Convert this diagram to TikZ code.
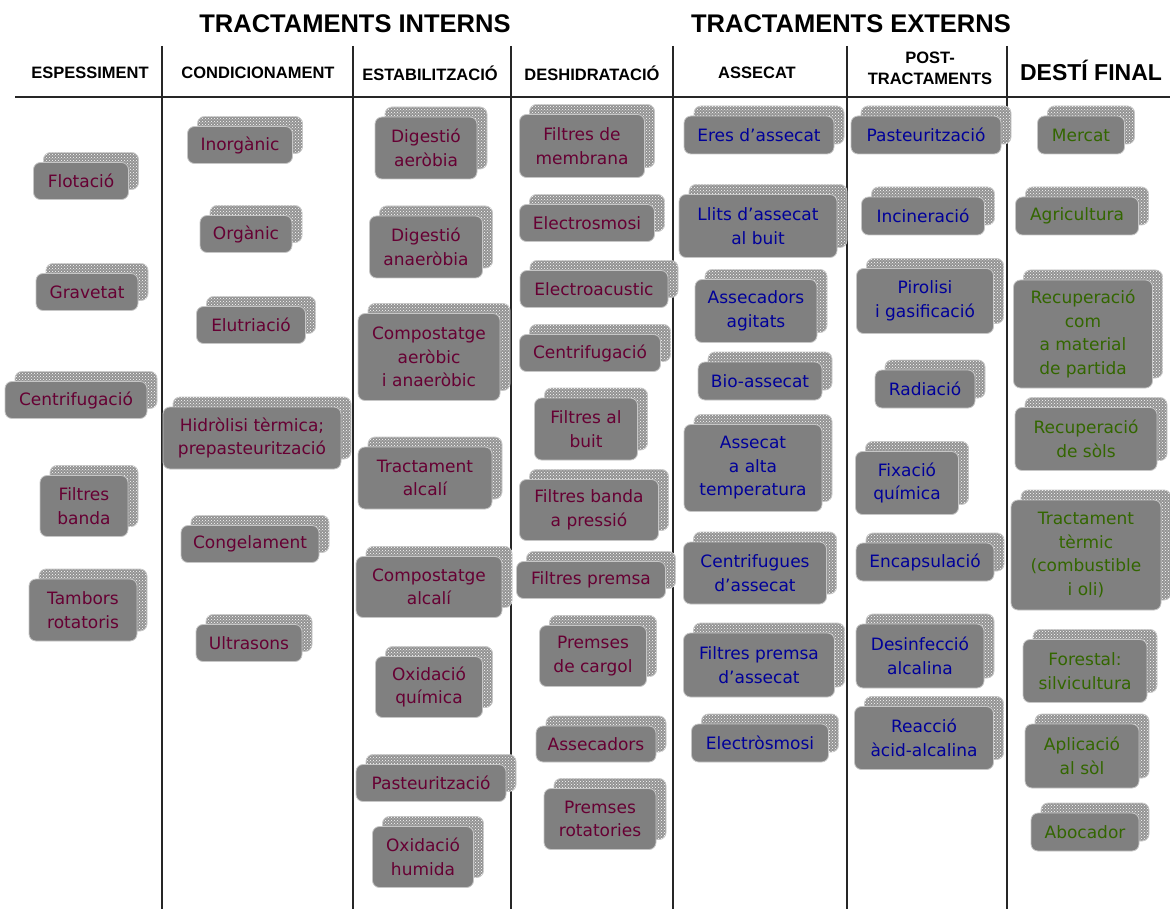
\documentclass[tikz,border=0pt]{standalone}
\usepackage{fontspec}
\setmainfont{DejaVu Sans}
\newfontfamily\headfont{Liberation Sans}
\usetikzlibrary{patterns}
\definecolor{intcol}{RGB}{102,0,51}
\definecolor{extcol}{RGB}{0,0,153}
\definecolor{fincol}{RGB}{51,102,0}
\definecolor{boxgray}{RGB}{128,128,128}

\begin{document}
\begin{tikzpicture}[x=1pt, y=-1pt,
        proc/.style = {rectangle, rounded corners=7pt, fill=boxgray, draw=gray!45, line width=0.8pt,
            align=center, inner sep=1pt, font=\fontsize{17}{23.5}\selectfont,
            preaction={fill=gray!85, draw=gray!45, transform canvas={shift={(10pt,10pt)}}},
            preaction={pattern=crosshatch dots, pattern color=white, transform canvas={shift={(10pt,10pt)}}}},
]
\tikzstyle{pint}=[proc, text=intcol]
\tikzstyle{pext}=[proc, text=extcol]
\tikzstyle{pfin}=[proc, text=fincol]
\tikzstyle{title}=[font=\headfont\bfseries\fontsize{25.5}{28}\selectfont]
\tikzstyle{colhead}=[font=\headfont\bfseries\fontsize{16.5}{21}\selectfont, align=center]
\tikzstyle{rule}=[line width=1.2pt, black!85]

\useasboundingbox (0,0) rectangle (1170,909);

	% titles and column heads
	\node[title] (tint) at (355,24) {TRACTAMENTS INTERNS};
	\node[title] (text) at (851,24) {TRACTAMENTS EXTERNS};

	\node[colhead] (hesp) at (90,73) {ESPESSIMENT};
	\node[colhead] (hcon) at (258,73) {CONDICIONAMENT};
	\node[colhead] (hest) at (430,73) {ESTABILITZACIÓ};
	\node[colhead] (hdes) at (592,73) {DESHIDRATACIÓ};
	\node[colhead] (hass) at (757,73) {ASSECAT};
	\node[colhead] (hpost) at (930,68) {POST-\\TRACTAMENTS};
	\node[colhead, font=\headfont\bfseries\fontsize{23}{26}\selectfont] (hdest) at (1091,70) {DESTÍ FINAL};

	\draw[rule] (15,97) -- (1170,97);
	\foreach \xc in {162,353,511,673,847,1007}
		\draw[rule] (\xc,46) -- (\xc,909);

	% espessiment
	\node[pint, minimum width=95, minimum height=37] (flot) at (81,181) {Flotació};
	\node[pint, minimum width=102, minimum height=37] (grav) at (87,292) {Gravetat};
	\node[pint, minimum width=142, minimum height=37] (cent1) at (76,400) {Centrifugació};
	\node[pint, minimum width=88, minimum height=61] (filb) at (84,506) {Filtres\\banda};
	\node[pint, minimum width=108, minimum height=62] (tamb) at (83,610) {Tambors\\rotatoris};

	% condicionament
	\node[pint, minimum width=105, minimum height=37] (inor) at (240,145) {Inorgànic};
	\node[pint, minimum width=92, minimum height=37] (orga) at (246,234) {Orgànic};
	\node[pint, minimum width=109, minimum height=37] (elut) at (251,325) {Elutriació};
	\node[pint, minimum width=178, minimum height=62] (hidr) at (252,438) {Hidròlisi tèrmica;\\prepasteurització};
	\node[pint, minimum width=138, minimum height=37] (cong) at (250,544) {Congelament};
	\node[pint, minimum width=106, minimum height=37] (ultr) at (249,643) {Ultrasons};

	% estabilitzacio
	\node[pint, minimum width=102, minimum height=62] (diga) at (426,148) {Digestió\\aeròbia};
	\node[pint, minimum width=113, minimum height=62] (digan) at (426,247) {Digestió\\anaeròbia};
	\node[pint, minimum width=142, minimum height=87] (compa) at (429,357) {Compostatge\\aeròbic\\i anaeròbic};
	\node[pint, minimum width=134, minimum height=62] (tral) at (425,478) {Tractament\\alcalí};
	\node[pint, minimum width=146, minimum height=61] (compb) at (429,587) {Compostatge\\alcalí};
	\node[pint, minimum width=107, minimum height=61] (oxiq) at (429,687) {Oxidació\\química};
	\node[pint, minimum width=150, minimum height=37] (past1) at (431,783) {Pasteurització};
	\node[pint, minimum width=101, minimum height=61] (oxih) at (423,857) {Oxidació\\humida};

	% deshidratacio
	\node[pint, minimum width=125, minimum height=63] (film) at (582,146) {Filtres de\\membrana};
	\node[pint, minimum width=135, minimum height=37] (elos) at (587,223) {Electrosmosi};
	\node[pint, minimum width=148, minimum height=37] (elac) at (594,289) {Electroacustic};
	\node[pint, minimum width=141, minimum height=37] (cent2) at (590,353) {Centrifugació};
	\node[pint, minimum width=103, minimum height=62] (filv) at (586,429) {Filtres al\\buit};
	\node[pint, minimum width=139, minimum height=61] (filp) at (589,510) {Filtres banda\\a pressió};
	\node[pint, minimum width=149, minimum height=37] (filr) at (591,580) {Filtres premsa};
	\node[pint, minimum width=107, minimum height=61] (prec) at (593,656) {Premses\\de cargol};
	\node[pint, minimum width=120, minimum height=36] (asse) at (596,744) {Assecadors};
	\node[pint, minimum width=112, minimum height=61] (prer) at (600,819) {Premses\\rotatories};

	% assecat
	\node[pext, minimum width=150, minimum height=38] (eres) at (759,135) {Eres d’assecat};
	\node[pext, minimum width=158, minimum height=63] (llit) at (758,226) {Llits d’assecat\\al buit};
	\node[pext, minimum width=122, minimum height=63] (asag) at (756,311) {Assecadors\\agitats};
	\node[pext, minimum width=124, minimum height=38] (bioa) at (760,381) {Bio-assecat};
	\node[pext, minimum width=138, minimum height=87] (asat) at (753,468) {Assecat\\a alta\\temperatura};
	\node[pext, minimum width=143, minimum height=62] (cena) at (755,573) {Centrifugues\\d’assecat};
	\node[pext, minimum width=151, minimum height=64] (fpra) at (759,665) {Filtres premsa\\d’assecat};
	\node[pext, minimum width=137, minimum height=38] (elec) at (760,743) {Electròsmosi};

	% post-tractaments
	\node[pext, minimum width=150, minimum height=38] (past2) at (926,135) {Pasteurització};
	\node[pext, minimum width=123, minimum height=38] (inci) at (923,216) {Incineració};
	\node[pext, minimum width=137, minimum height=65] (piro) at (925,301) {Pirolisi\\i gasificació};
	\node[pext, minimum width=100, minimum height=38] (radi) at (925,389) {Radiació};
	\node[pext, minimum width=103, minimum height=63] (fixa) at (907,483) {Fixació\\química};
	\node[pext, minimum width=138, minimum height=38] (enca) at (925,562) {Encapsulació};
	\node[pext, minimum width=128, minimum height=64] (desi) at (920,656) {Desinfecció\\alcalina};
	\node[pext, minimum width=139, minimum height=63] (reac) at (924,738) {Reacció\\àcid-alcalina};

	% desti final
	\node[pfin, minimum width=87, minimum height=38] (merc) at (1081,135) {Mercat};
	\node[pfin, minimum width=123, minimum height=38] (agri) at (1077,216) {Agricultura};
	\node[pfin, minimum width=139, minimum height=108] (recm) at (1083,334) {Recuperació\\com\\a material\\de partida};
	\node[pfin, minimum width=142, minimum height=63] (recs) at (1086,439) {Recuperació\\de sòls};
	\node[pfin, minimum width=150, minimum height=110] (trat) at (1086,555) {Tractament\\tèrmic\\(combustible\\i oli)};
	\node[pfin, minimum width=124, minimum height=63] (fore) at (1085,671) {Forestal:\\silvicultura};
	\node[pfin, minimum width=114, minimum height=64] (apli) at (1082,756) {Aplicació\\al sòl};
	\node[pfin, minimum width=108, minimum height=38] (aboc) at (1085,832) {Abocador};

\end{tikzpicture}
\end{document}
